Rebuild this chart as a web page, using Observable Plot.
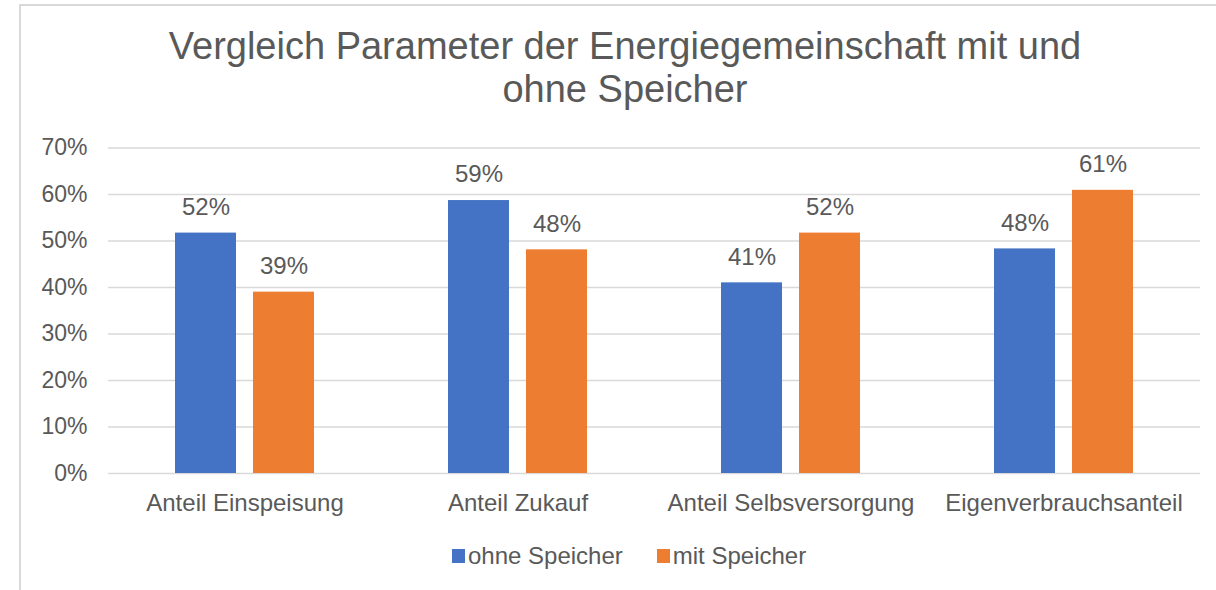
<!DOCTYPE html>
<html>
<head>
<meta charset="utf-8">
<script src="https://cdn.jsdelivr.net/npm/d3@7"></script>
<script src="https://cdn.jsdelivr.net/npm/@observablehq/plot@0.6"></script>
<style>
  html, body { margin: 0; padding: 0; background: #fff; }
  body { width: 1216px; height: 590px; position: relative; overflow: hidden;
         font-family: "Liberation Sans", Arial, sans-serif; color: #595959; }
  #frame { position: absolute; left: 19px; top: 4px; width: 1197px; height: 586px;
           border-left: 2px solid #d9d9d9; border-top: 2px solid #d9d9d9; box-sizing: border-box; }
  #title { position: absolute; left: 20px; width: 1210px; top: 25px; text-align: center;
           font-size: 38px; line-height: 43px; color: #595959; }
  #chart { position: absolute; left: 0; top: 130px; }
  #legend { position: absolute; top: 542px; left: 452px; display: flex; align-items: center;
            font-size: 24px; line-height: 28px; color: #595959; }
  .item { display: flex; align-items: center; margin-right: 34px; }
  .sw { width: 13px; height: 14px; margin-right: 3px; }
</style>
</head>
<body>
<div id="frame"></div>
<div id="title">Vergleich Parameter der Energiegemeinschaft mit und<br>ohne Speicher</div>
<div id="chart"></div>
<div id="legend"></div>
<script>
const categories = ["Anteil Einspeisung", "Anteil Zukauf", "Anteil Selbsversorgung", "Eigenverbrauchsanteil"];
const series = ["ohne Speicher", "mit Speicher"];
const colors = ["#4472C4", "#ED7D31"];
const ohneSpeicher = [0.517, 0.587, 0.41, 0.483];
const mitSpeicher = [0.39, 0.481, 0.517, 0.609];
const yTicks = [0, 0.1, 0.2, 0.3, 0.4, 0.5, 0.6, 0.7];

const data = [];
categories.forEach((c, i) => {
  data.push({cat: c, ser: series[0], value: ohneSpeicher[i]});
  data.push({cat: c, ser: series[1], value: mitSpeicher[i]});
});
const pct = d3.format(".0%");

const chart = Plot.plot({
  width: 1216,
  height: 400,
  marginLeft: 107,
  marginRight: 16,
  marginTop: 17.5,
  marginBottom: 57,
  style: {fontFamily: "'Liberation Sans', Arial, sans-serif", fontSize: "23px", color: "#595959", background: "transparent"},
  fx: {domain: categories, padding: 0, label: null},
  x: {domain: series, paddingInner: 0.218, paddingOuter: 0.859, axis: null},
  y: {domain: [0, 0.7], label: null},
  color: {domain: series, range: colors},
  marks: [
    Plot.ruleY(yTicks, {stroke: "#d9d9d9", strokeWidth: 1.5}),
    Plot.axisY({ticks: yTicks, tickFormat: pct, tickSize: 0, tickPadding: 21, fontSize: 23, fill: "#595959", label: null}),
    Plot.axisFx({anchor: "bottom", tickSize: 0, tickPadding: 20, fontSize: 24, fill: "#595959", label: null}),
    Plot.barY(data, {fx: "cat", x: "ser", y: "value", fill: "ser"}),
    Plot.text(data, {fx: "cat", x: "ser", y: "value", text: d => pct(d.value), dy: -26, fontSize: 24, fill: "#595959"})
  ]
});
document.getElementById("chart").appendChild(chart);

const legend = document.getElementById("legend");
series.forEach((s, i) => {
  const item = document.createElement("div");
  item.className = "item";
  const sw = document.createElement("div");
  sw.className = "sw";
  sw.style.background = colors[i];
  const t = document.createElement("span");
  t.textContent = s;
  item.appendChild(sw);
  item.appendChild(t);
  legend.appendChild(item);
});
</script>
</body>
</html>
